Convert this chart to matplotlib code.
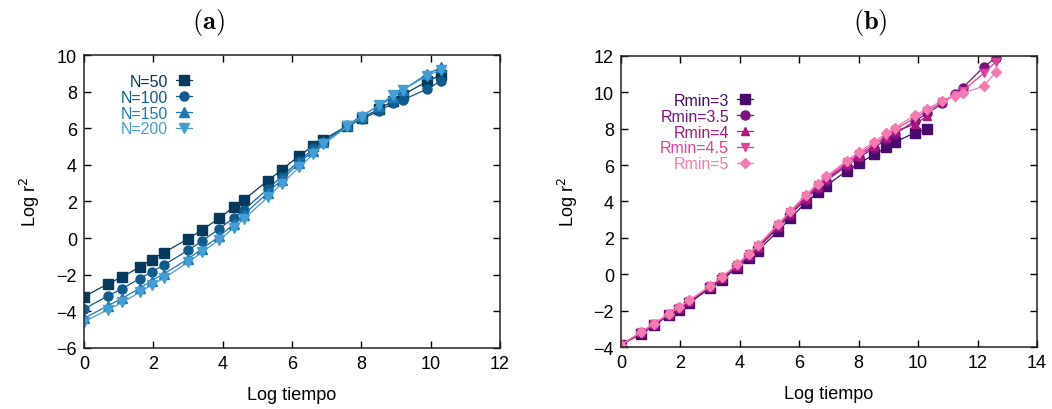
import matplotlib
matplotlib.use("Agg")
import matplotlib.pyplot as plt

plt.rcParams['font.family'] = ['Liberation Sans', 'DejaVu Sans']
plt.rcParams['font.size'] = 13

# log(t) sampling points
log_t = [0.0, 0.69, 1.10, 1.61, 1.95, 2.30, 3.00, 3.40, 3.91, 4.32, 4.61,
         5.30, 5.70, 6.21, 6.62, 6.91, 7.60, 8.01, 8.52, 8.92, 9.21, 9.90, 10.31]
log_t_long = log_t + [10.82, 11.23, 11.51, 12.21, 12.61]

# panel (a): chain length
n_labels = ['N=50', 'N=100', 'N=150', 'N=200']
n50 = [-3.20, -2.50, -2.12, -1.58, -1.18, -0.79, -0.05, 0.44, 1.10, 1.70, 2.08,
       3.14, 3.72, 4.50, 5.05, 5.38, 6.14, 6.56, 7.05, 7.51, 7.83, 8.56, 8.93]
n100 = [-3.87, -3.16, -2.76, -2.21, -1.85, -1.47, -0.67, -0.17, 0.52, 1.10, 1.54,
        2.68, 3.36, 4.21, 4.90, 5.27, 6.10, 6.49, 6.96, 7.36, 7.56, 8.14, 8.60]
n150 = [-4.38, -3.69, -3.29, -2.74, -2.32, -1.96, -1.14, -0.59, 0.10, 0.77, 1.28,
        2.47, 3.19, 4.10, 4.78, 5.23, 6.16, 6.69, 7.23, 7.72, 8.11, 8.96, 9.33]
n200 = [-4.56, -3.91, -3.51, -2.96, -2.56, -2.20, -1.32, -0.78, -0.08, 0.55, 1.04,
        2.23, 2.96, 3.87, 4.59, 5.12, 6.10, 6.63, 7.29, 7.82, 8.11, 8.87, 9.20]

# panel (b): minimum distance
r_labels = ['Rmin=3', 'Rmin=3.5', 'Rmin=4', 'Rmin=4.5', 'Rmin=5']
r3 = [-3.88, -3.27, -2.81, -2.26, -1.95, -1.57, -0.76, -0.29, 0.35, 0.90, 1.30,
      2.40, 3.08, 3.92, 4.50, 4.87, 5.69, 6.09, 6.59, 6.97, 7.25, 7.79, 7.98]
r35 = [-3.88, -3.22, -2.77, -2.22, -1.88, -1.50, -0.70, -0.22, 0.45, 1.00, 1.45,
       2.58, 3.28, 4.10, 4.74, 5.14, 5.97, 6.42, 6.94, 7.43, 7.70, 8.43, 8.85,
       9.39, 9.93, 10.26, 11.40, 11.91]
r4 = [-3.88, -3.20, -2.76, -2.20, -1.86, -1.48, -0.68, -0.20, 0.48, 1.05, 1.50,
      2.65, 3.35, 4.20, 4.82, 5.22, 6.05, 6.52, 7.05, 7.52, 7.85, 8.25, 8.71]
r45 = [-3.88, -3.18, -2.74, -2.18, -1.84, -1.46, -0.66, -0.17, 0.52, 1.10, 1.55,
       2.72, 3.42, 4.28, 4.90, 5.30, 6.15, 6.62, 7.15, 7.62, 7.95, 8.60, 9.00,
       9.45, 9.85, 10.10, 11.05, 11.67]
r5 = [-3.88, -3.16, -2.72, -2.16, -1.82, -1.44, -0.64, -0.14, 0.56, 1.14, 1.60,
      2.78, 3.48, 4.35, 4.98, 5.38, 6.25, 6.72, 7.28, 7.75, 8.05, 8.75, 9.10,
      9.55, 9.80, 9.95, 10.35, 11.12]

blues = ['#063a5c', '#0f5b8c', '#1f78b6', '#459dd2']
pinks = ['#4a0a6b', '#7a1280', '#a8187f', '#e0429a', '#f47bb1']

fig = plt.figure(figsize=(10.52, 4.10), dpi=100)
ax1 = fig.add_axes([0.0798, 0.1488, 0.3954, 0.7146])
ax2 = fig.add_axes([0.5903, 0.1512, 0.3954, 0.7098])


def style(ax):
    ax.tick_params(direction='in', top=True, right=True, length=5, width=1,
                   labelsize=13, pad=5)
    for s in ax.spines.values():
        s.set_linewidth(1.1)
        s.set_color('#222222')
    ax.set_xlabel('Log tiempo', fontsize=13, labelpad=10)
    ax.set_ylabel('Log r$^2$', fontsize=13, labelpad=10)


def add_legend(ax, right_px, top_px):
    ax.legend(loc='upper right', bbox_to_anchor=(right_px / 1052, 1 - top_px / 410),
              bbox_transform=fig.transFigure, frameon=False, markerfirst=False,
              labelcolor='linecolor', handlelength=1.0, handletextpad=0.5,
              labelspacing=0.05, borderpad=0.0, borderaxespad=0.0, fontsize=11.5)


markers_a = ['s', 'o', '^', 'v']
sizes_a = [7, 6.5, 6.5, 6.5]
for y, lab, c, m, ms in zip([n50, n100, n150, n200], n_labels, blues, markers_a, sizes_a):
    ax1.plot(log_t, y, color=c, marker=m, ms=ms, lw=0.9, label=lab)
ax1.set_xlim(0, 12)
ax1.set_ylim(-6, 10)
ax1.set_xticks(range(0, 13, 2))
ax1.set_yticks(range(-6, 11, 2))
style(ax1)
add_legend(ax1, 192, 75)

markers_b = ['s', 'o', '^', 'v', 'D']
sizes_b = [7, 6.5, 6, 6, 5]
xs_b = [log_t, log_t_long, log_t, log_t_long, log_t_long]
for x, y, lab, c, m, ms in zip(xs_b, [r3, r35, r4, r45, r5], r_labels, pinks, markers_b, sizes_b):
    ax2.plot(x, y, color=c, marker=m, ms=ms, lw=0.9, label=lab)
ax2.set_xlim(0, 14)
ax2.set_ylim(-4, 12)
ax2.set_xticks(range(0, 15, 2))
ax2.set_yticks(range(-4, 13, 2))
style(ax2)
add_legend(ax2, 753, 94)

fig.text(208 / 1052, 1 - 22 / 410, r'$\mathbf{(a)}$', ha='center', va='center',
         fontsize=19, math_fontfamily='cm')
fig.text(870 / 1052, 1 - 22 / 410, r'$\mathbf{(b)}$', ha='center', va='center',
         fontsize=19, math_fontfamily='cm')

fig.savefig('out.png', dpi=100)
